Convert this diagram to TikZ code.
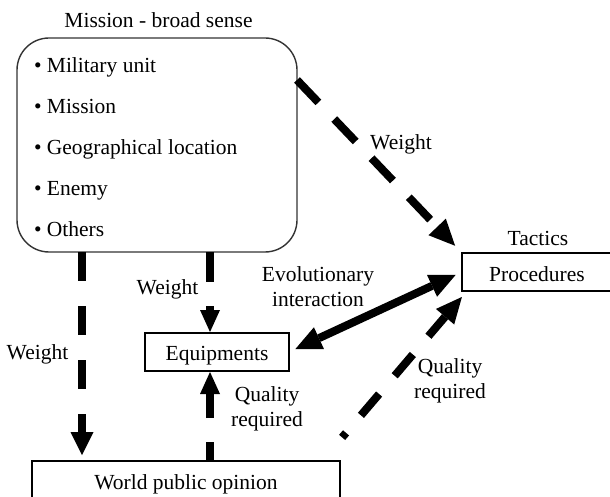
\documentclass[tikz,border=0pt]{standalone}
\usepackage{fontspec}
\setmainfont{Liberation Serif}
\usetikzlibrary{arrows.meta}

\tikzset{
  txt/.style={font=\fontsize{21.5}{25}\selectfont, inner sep=0pt, outer sep=0pt},
  box/.style={txt, draw=black, line width=1.6pt},
  heavy/.style={line width=8pt, draw=black},
  bigtip/.tip={Triangle[length=26pt, width=24pt, line width=0pt]},
  longtip/.tip={Triangle[length=23pt, width=23pt, line width=0pt]},
  smalltip/.tip={Triangle[length=22pt, width=20pt, line width=0pt]},
}

\begin{document}
\begin{tikzpicture}[x=1pt, y=-1pt]
  \useasboundingbox (0,0) rectangle (610,497);
  \clip (0,0) rectangle (610,497);
  \fill[white] (0,0) rectangle (610,497);

  % mission frame with its bullet list
  \node[txt, draw=black!80, line width=1.4pt, rounded corners=32pt,
        minimum width=280pt, minimum height=214pt] (mission) at (157,145) {};
  \node[txt, anchor=base] (title) at (158.5,28) {Mission - broad sense};
  \node[txt, anchor=base west] (m1) at (34,73)    {• Military unit};
  \node[txt, anchor=base west] (m2) at (34,113.75) {• Mission};
  \node[txt, anchor=base west] (m3) at (34,154.5) {• Geographical location};
  \node[txt, anchor=base west] (m4) at (34,195.25) {• Enemy};
  \node[txt, anchor=base west] (m5) at (34,236)   {• Others};

  % boxes
  \node[box, minimum width=144pt, text height=27pt, text depth=11pt] (equip) at (217,352) {Equipments};
  \node[box, minimum width=150pt, text height=28pt, text depth=10pt] (proc) at (537,272) {Procedures};
  \node[box, minimum width=308pt, text height=28pt, text depth=26pt] (world) at (186,488) {World public opinion};
  \node[txt, anchor=base] (tactics) at (538,245) {Tactics};

  % labels
  \node[txt, anchor=base] (w1) at (401,150) {Weight};
  \node[txt, anchor=base] (w2) at (167.5,294) {Weight};
  \node[txt, anchor=base] (w3) at (37.5,359) {Weight};
  \node[txt, align=center, anchor=north] (evo) at (318,266.2) {Evolutionary\\interaction};
  \node[txt, align=center, anchor=north] (q1) at (267,386.4) {Quality\\required};
  \node[txt, align=center, anchor=north] (q2) at (450,358.4) {Quality\\required};

  % connectors
  \draw[heavy, dash pattern=on 29pt off 25pt, -{longtip}, shorten >=6pt]
    (mission.south -| 82,0) -- (world.north -| 82,0);
  \draw[heavy, dash pattern=on 30pt off 24pt, -{smalltip}, shorten >=1pt]
    (mission.south -| 210,0) -- (equip.north -| 210,0);
  \draw[heavy, dash pattern=on 19pt off 24pt on 300pt off 1pt, -{smalltip}, shorten >=1pt]
    (world.north -| 210,0) -- (equip.south -| 210,0);
  \draw[heavy, dash pattern=on 31pt off 23pt, -{bigtip}, shorten >=10pt]
    (mission.east |- 0,80) -- (proc.north west);
  \draw[heavy, {bigtip}-{bigtip}, shorten <=7pt, shorten >=7pt]
    (equip.east) -- (proc.west);
  \draw[heavy, dash pattern=on 6pt off 23pt on 28pt off 24pt on 28pt off 24pt on 300pt off 1pt,
        -{bigtip}, shorten <=31pt, shorten >=7.8pt]
    (world.north -| 322,0) -- (proc.south -| 467,0);
\end{tikzpicture}
\end{document}
